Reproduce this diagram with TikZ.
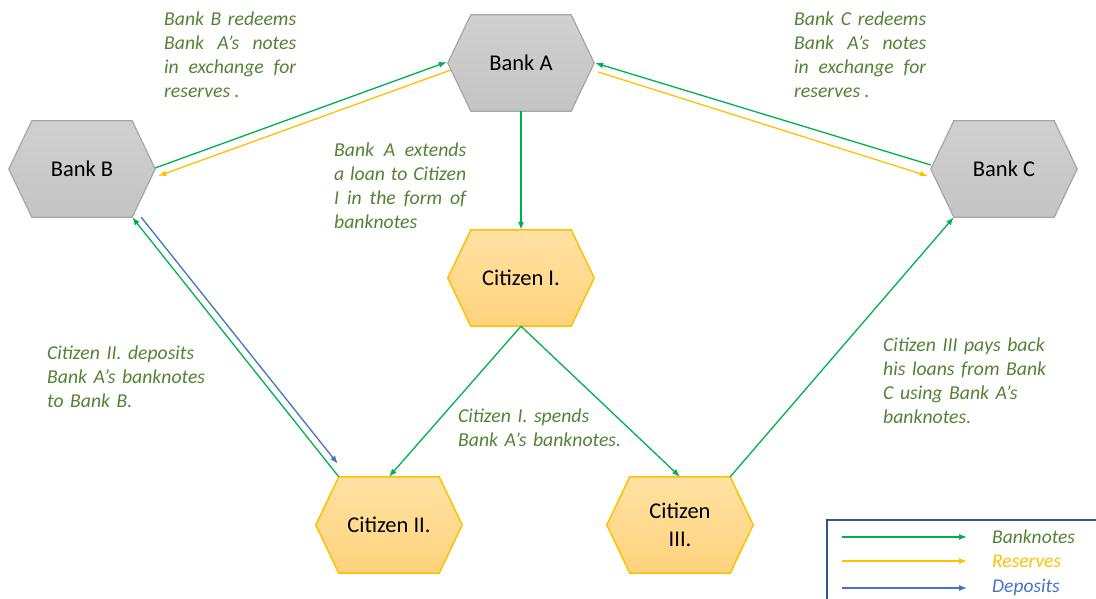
\documentclass[tikz,border=0pt]{standalone}
\usepackage{fontspec}
\setmainfont{Carlito}
\usetikzlibrary{calc,arrows.meta,backgrounds}

\definecolor{txtgreen}{HTML}{548235}
\definecolor{arrgreen}{HTML}{00B050}
\definecolor{arryellow}{HTML}{FFC000}
\definecolor{arrblue}{HTML}{4472C4}
\definecolor{legframe}{HTML}{2F5597}
\definecolor{bankline}{HTML}{A6A6A6}
\definecolor{banktop}{HTML}{D0D0D0}
\definecolor{bankbot}{HTML}{C4C4C4}
\definecolor{cittop}{HTML}{FFE1A3}
\definecolor{citbot}{HTML}{FFD37D}

\tikzset{
  hexnode/.style={rectangle, minimum width=100pt, minimum height=96pt, inner sep=0pt,
    font=\fontsize{22.5}{28}\selectfont, text=black},
  bankhex/.style={draw=bankline, line width=1.2pt, line join=miter, top color=banktop, bottom color=bankbot},
  cithex/.style={draw=arryellow, line width=1.5pt, line join=miter, top color=cittop, bottom color=citbot},
  flow/.style={line width=1.3pt, -{Latex[length=8pt,width=6pt]}},
  banknote/.style={flow, draw=arrgreen},
  reserve/.style={flow, draw=arryellow},
  deposit/.style={flow, draw=arrblue},
  note/.style={font=\fontsize{19.7}{24}\selectfont\itshape, text=txtgreen, inner sep=0pt, anchor=base west},
  jnote/.style={note, text width=132pt, align=justify},
  rnote/.style={note, text width=200pt, align=left},
  legtext/.style={font=\fontsize{19.5}{24}\selectfont\itshape, inner sep=0pt, anchor=west}
}

\begin{document}
\begin{tikzpicture}[x=1pt,y=-1pt]
\useasboundingbox (0,0) rectangle (1096,599);

% hexagon cores
\node[hexnode] (bA) at (521,63) {Bank A};
\node[hexnode] (bB) at (82,169) {Bank B};
\node[hexnode] (bC) at (1004,169) {Bank C};
\node[hexnode] (cI) at (521,278) {Citizen I.};
\node[hexnode] (cII) at (389,525) {Citizen II.};
\node[hexnode, align=center] (cIII) at (680,525) {Citizen\\III.};

% hexagon outlines behind the labels
\begin{scope}[on background layer]
\foreach \n/\s in {bA/bankhex,bB/bankhex,bC/bankhex,cI/cithex,cII/cithex,cIII/cithex}{
  \coordinate (\n-e) at ($(\n.east)+(23,0)$);
  \coordinate (\n-w) at ($(\n.west)+(-23,0)$);
  \path[\s] (\n.north west) -- (\n.north east) -- (\n-e) -- (\n.south east)
    -- (\n.south west) -- (\n-w) -- cycle;
}
\end{scope}

% flows between banks and citizens
\draw[banknote] ($(bB-e)+(0,-1)$) -- ($(bA-w)+(-1,-1)$);
\draw[reserve] ($(bA-w)+(3,7)$) -- ($(bB-e)+(3,7)$);
\draw[banknote] ($(bC-w)+(0,-4)$) -- ($(bA-e)+(1,0)$);
\draw[reserve] ($(bA-e)+(4,9)$) -- ($(bC-w)+(-3,7)$);
\draw[banknote] (bA.south) -- (cI.north);
\draw[banknote] (cI.south) -- (cII.north);
\draw[banknote] (cI.south) -- (cIII.north);
\draw[banknote] (cIII.north east) -- (bC.south west);
\draw[banknote] (cII.north west) -- (bB.south east);
\draw[deposit] ($(bB.south east)+(9,0)$) -- ($(cII.north west)+(-1,-13)$);

% explanations
\node[jnote] (tB) at (164,26) {Bank B redeems\linebreak Bank A’s notes\linebreak in exchange for\linebreak reserves .};
\node[jnote] (tC) at (794,26) {Bank C redeems\linebreak Bank A’s notes\linebreak in exchange for\linebreak reserves .};
\node[jnote] (tA) at (334,157) {Bank A extends\linebreak a loan to Citizen\linebreak I in the form of\linebreak banknotes};
\node[rnote] (tII) at (47,359) {Citizen II. deposits\\Bank A’s banknotes\\to Bank B.};
\node[rnote] (tI) at (458,422) {Citizen I. spends\\Bank A’s banknotes.};
\node[rnote] (tIII) at (883,351) {Citizen III pays back\\his loans from Bank\\C using Bank A’s\\banknotes.};

% legend
\draw[legframe, line width=1.2pt] (827,610) -- (827,520) -- (1110,520);
\coordinate (lg1a) at (842,537); \coordinate (lg1b) at (967,537);
\coordinate (lg2a) at (842,561); \coordinate (lg2b) at (967,561);
\coordinate (lg3a) at (842,588); \coordinate (lg3b) at (967,588);
\draw[banknote] (lg1a) -- (lg1b);
\draw[reserve] (lg2a) -- (lg2b);
\draw[deposit] (lg3a) -- (lg3b);
\node[legtext, text=txtgreen] (l1) at (992,537) {Banknotes};
\node[legtext, text=arryellow] (l2) at (992,561) {Reserves};
\node[legtext, text=arrblue] (l3) at (992,587) {Deposits};
\end{tikzpicture}
\end{document}
